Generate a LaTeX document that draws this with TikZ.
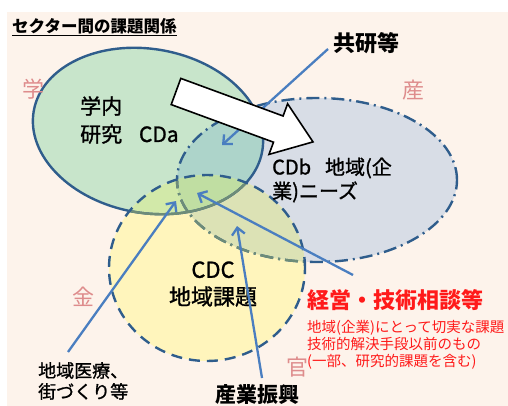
\documentclass[tikz,border=0pt]{standalone}
\usepackage{fontspec}
\newfontfamily\jp{Noto Sans CJK JP}
\newfontfamily\jpm{Noto Sans CJK JP}[FakeBold=1.2]
\usetikzlibrary{arrows.meta}
\definecolor{bg}{HTML}{FDF3EB}
\definecolor{fillA}{HTML}{C8E5CB}
\definecolor{fillB}{HTML}{D8DDE6}
\definecolor{fillC}{HTML}{FFF5BC}
\definecolor{fillAB}{HTML}{ADD4CA}
\definecolor{fillAC}{HTML}{D2E9A9}
\definecolor{fillBC}{HTML}{DCE2B5}
\definecolor{fillABC}{HTML}{C0DEA2}
\definecolor{edge}{HTML}{2F5D8C}
\definecolor{edgeC}{HTML}{6E8C78}
\definecolor{arrowblue}{HTML}{4A7EC0}
\definecolor{pinkk}{HTML}{DE8C8C}
\definecolor{redd}{HTML}{FF1A1A}
\tikzset{
  solidedge/.style={line width=2.4pt},
  dashdotedge/.style={line width=2.4pt,dash pattern=on 13pt off 5pt on 2pt off 5pt},
  dashededge/.style={line width=2.4pt,dash pattern=on 11pt off 7pt},
  thinarrow/.style={draw=arrowblue,line width=2.3pt,-{Straight Barb[length=7pt,width=13pt]}},
  sector/.style={text=pinkk,font=\jp\fontsize{22pt}{26pt}\selectfont,inner sep=0pt},
  lbl/.style={inner sep=0pt,align=left,font=\jpm\fontsize{21pt}{28pt}\selectfont},
  rotA/.style={rotate around={-10:(148,131)}},
}
\begin{document}
\begin{tikzpicture}[x=1pt,y=-1pt]
\useasboundingbox (0,0) rectangle (508,406);
\fill[bg] (7,12) rectangle (508,406);
% base fills
\fill[fillA,rotA] (148,131) ellipse [x radius=116pt,y radius=82pt];
\fill[fillB] (317,180) ellipse [x radius=140pt,y radius=82pt];
\fill[fillC] (207,268) ellipse [x radius=98pt,y radius=93pt];
% B and C
\begin{scope}
\clip (317,180) ellipse [x radius=140pt,y radius=82pt];
\fill[fillBC] (207,268) ellipse [x radius=98pt,y radius=93pt];
\end{scope}
% A with B, C
\begin{scope}
\clip[rotA] (148,131) ellipse [x radius=116pt,y radius=82pt];
\fill[fillAB] (317,180) ellipse [x radius=140pt,y radius=82pt];
\fill[fillAC] (207,268) ellipse [x radius=98pt,y radius=93pt];
\clip (317,180) ellipse [x radius=140pt,y radius=82pt];
\fill[fillABC] (207,268) ellipse [x radius=98pt,y radius=93pt];
\end{scope}
% outlines
\draw[edge,solidedge,rotA] (148,131) ellipse [x radius=116pt,y radius=82pt];
\draw[edge,dashdotedge] (317,180) ellipse [x radius=140pt,y radius=82pt];
\begin{scope}
\clip (207,268) ellipse [x radius=98pt,y radius=93pt];
\draw[edgeC,solidedge,rotA] (148,131) ellipse [x radius=116pt,y radius=82pt];
\draw[edgeC,dashdotedge] (317,180) ellipse [x radius=140pt,y radius=82pt];
\end{scope}
\draw[edge,dashededge] (207,268) ellipse [x radius=98pt,y radius=93pt];

% labels
\node[inner sep=0pt,anchor=west,font=\jp\bfseries\fontsize{16.5pt}{20pt}\selectfont] (title) at (12,27) {\underline{セクター間の課題関係}};
\node[sector] (gaku) at (33,89) {学};
\node[sector] (san) at (413,90) {産};
\node[sector] (kin) at (83,297) {金};
\node[sector] (kan) at (297,367) {官};
\node[inner sep=0pt,anchor=west,font=\jp\bfseries\fontsize{22pt}{26pt}\selectfont] (kyoken) at (333,43) {共研等};
\node[lbl,anchor=west] (cda) at (80,120) {学内\\研究\hspace{0.8em}CDa};
\node[lbl,anchor=west,font=\jpm\fontsize{20pt}{24pt}\selectfont] (cdb) at (272,180) {CDb\hspace{0.7em}地域(企\\業)ニーズ};
\node[lbl,align=center,font=\jpm\fontsize{22pt}{27pt}\selectfont] (cdc) at (213,284) {CDC\\地域課題};
\node[inner sep=0pt,anchor=west,text=redd,font=\jp\bfseries\fontsize{22pt}{26pt}\selectfont] (keiei) at (307,300) {経営・技術相談等};
\node[inner sep=0pt,anchor=west,align=left,text=redd,font=\jp\fontsize{14.5pt}{17pt}\selectfont] (note) at (307,345) {地域(企業)にとって切実な課題\\技術的解決手段以前のもの\\(一部、研究的課題を含む)};
\node[inner sep=0pt,anchor=west,align=left,font=\jpm\fontsize{18pt}{21pt}\selectfont] (iryo) at (38,381) {地域医療、\\街づくり等};
\node[inner sep=0pt,anchor=west,font=\jp\bfseries\fontsize{21pt}{25pt}\selectfont] (shinko) at (215,395) {産業振興};

% thin arrows
\coordinate (kyokenS) at (328,49);
\coordinate (kyokenT) at (222,145);
\coordinate (iryoS) at (68,352);
\coordinate (iryoT) at (176,201);
\coordinate (shinkoS) at (262,378);
\coordinate (shinkoT) at (237,226);
\coordinate (keieiS) at (353,275);
\coordinate (keieiT) at (197,193);
\draw[thinarrow] (kyokenS) -- (kyokenT);
\draw[thinarrow] (iryoS) -- (iryoT);
\draw[thinarrow] (shinkoS) -- (shinkoT);
\draw[thinarrow] (keieiS) -- (keieiT);

% big white arrow
\draw[fill=white,line width=1.6pt,line join=miter] (180.8,78.4) -- (283.1,116.0) -- (287.6,103.8) -- (313.0,141.9) -- (269.0,154.4) -- (273.5,142.2) -- (171.2,104.6) -- cycle;
\end{tikzpicture}
\end{document}
